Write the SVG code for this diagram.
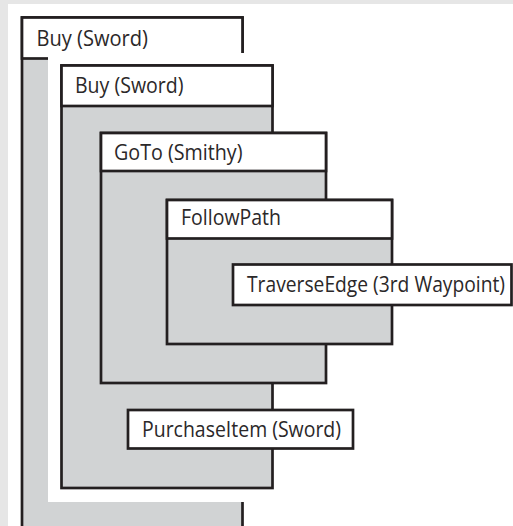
<svg xmlns="http://www.w3.org/2000/svg" width="513" height="526" viewBox="0 0 513 526">
<style>
.body{fill:#d1d3d4;stroke:#231f20;stroke-width:2.7}
.head{fill:#ffffff;stroke:#231f20;stroke-width:2.7}
.lbl{font-family:"Open Sans","Noto Sans",sans-serif;font-size:21px;fill:#2b2829}
</style>
<rect x="0" y="0" width="513" height="526" fill="#e6e6e6"/>
<rect x="8" y="4" width="505" height="522" fill="#ffffff"/>
<g id="buy-outer">
<rect class="body" x="22" y="17.5" width="220.5" height="540"/>
<rect class="head" x="22" y="17.5" width="220.5" height="41"/>
<text class="lbl" x="36.5" y="46" textLength="111.5" lengthAdjust="spacingAndGlyphs">Buy (Sword)</text>
</g>
<rect id="halo" x="48" y="53" width="237" height="449" fill="#ffffff"/>
<g id="buy-inner">
<rect class="body" x="61.5" y="65.5" width="211" height="422.5"/>
<rect class="head" x="61.5" y="65.5" width="211" height="40.5"/>
<text class="lbl" x="75" y="93" textLength="108.5" lengthAdjust="spacingAndGlyphs">Buy (Sword)</text>
</g>
<g id="goto">
<rect class="body" x="101" y="133" width="225" height="250"/>
<rect class="head" x="101" y="133" width="225" height="38"/>
<text class="lbl" x="114" y="160" textLength="128.5" lengthAdjust="spacingAndGlyphs">GoTo (Smithy)</text>
</g>
<g id="followpath">
<rect class="body" x="167" y="200" width="225" height="144"/>
<rect class="head" x="167" y="200" width="225" height="38.5"/>
<text class="lbl" x="181" y="225" textLength="100" lengthAdjust="spacingAndGlyphs">FollowPath</text>
</g>
<g id="traverseedge">
<rect class="head" x="233" y="264.5" width="278.5" height="40.5"/>
<text class="lbl" x="247" y="292" textLength="258" lengthAdjust="spacingAndGlyphs">TraverseEdge (3rd Waypoint)</text>
</g>
<g id="purchaseitem">
<rect class="head" x="128" y="410" width="225" height="38.5"/>
<text class="lbl" x="142" y="437" textLength="199" lengthAdjust="spacingAndGlyphs">PurchaseItem (Sword)</text>
</g>
<g id="connectors"/>
</svg>
